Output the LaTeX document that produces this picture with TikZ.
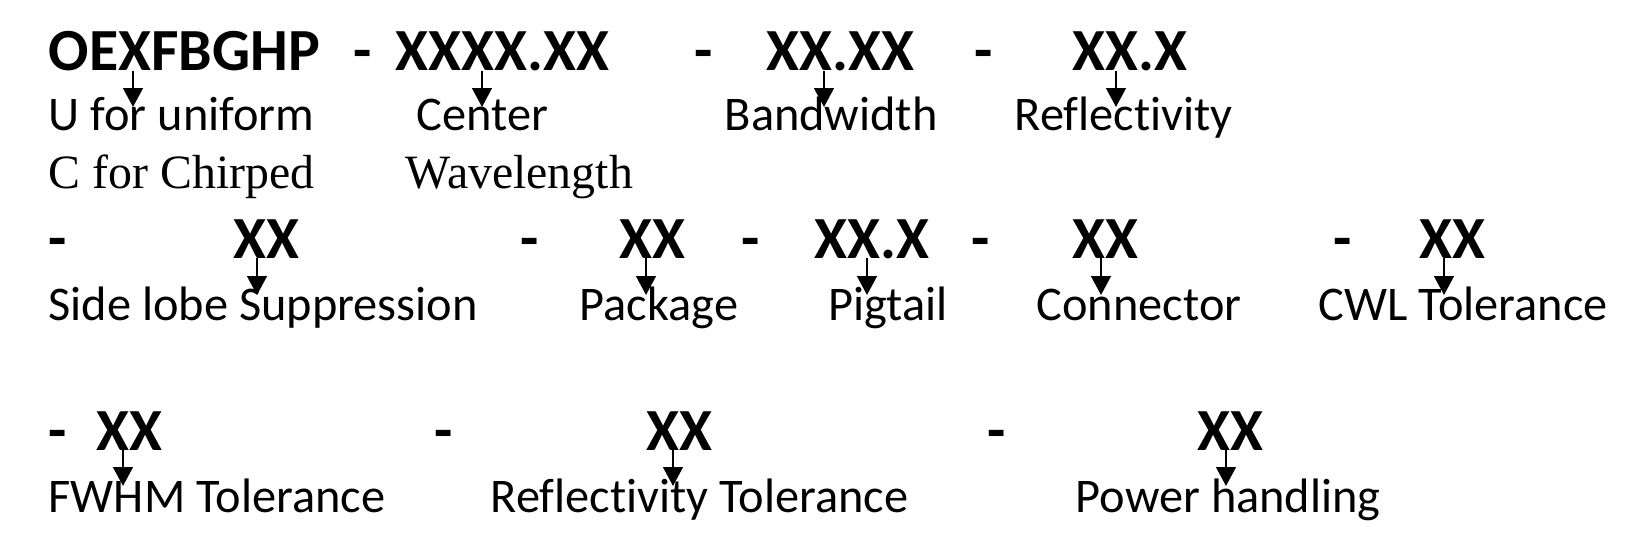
\documentclass[tikz,border=0pt]{standalone}
\usepackage{fontspec}
\setmainfont{Carlito}[Ligatures={NoCommon}]
\newfontfamily\tmsfont{Liberation Serif}
\usepackage{tikz}
\usetikzlibrary{
    arrows.meta,
    calc
}
\tikzset{
  code/.style  = {inner sep=0pt, anchor=base west,
                  font=\fontsize{17}{20}\selectfont\bfseries},
  lbl/.style   = {inner sep=0pt, anchor=base west,
                  font=\fontsize{13.75}{16}\selectfont},
  slbl/.style  = {inner sep=0pt, anchor=base west,
                  font=\fontsize{13.6}{16}\selectfont\tmsfont},
  arr/.style   = {-{Triangle[length=5.4pt,width=5.6pt]}, line width=0.7pt}
}

\begin{document}
\begin{tikzpicture}[x=0.01cm, y=-0.01cm]
  \useasboundingbox (0,0) rectangle (1629,551);
  % first line of the part number
  \node[code] (oe)   at (48,70)   {OEXFBGHP};
  \node[code] (dsh1) at (353,70)  {-};
  \node[code] (cwl)  at (395,70)  {XXXX.XX};
  \node[code] (dsh2) at (694,70)  {-};
  \node[code] (bw)   at (766,70)  {XX.XX};
  \node[code] (dsh3) at (974,70)  {-};
  \node[code] (rf)   at (1072,70) {XX.X};
  \node[lbl]  (luni)   at (48,130)   {U for uniform};
  \node[lbl]  (lcen)   at (416,130)  {Center};
  \node[lbl]  (lbw)    at (724,130)  {Bandwidth};
  \node[lbl]  (lrf)    at (1014,130) {Reflectivity};
  \node[slbl] (lchirp) at (48,188)   {C for Chirped};
  \node[slbl] (lwave)  at (405,188)  {Wavelength};
  \draw[arr] ($(oe.base west)+(85,1)$)  -- ++(0,36);
  \draw[arr] ($(cwl.base west)+(87,1)$) -- ++(0,36);
  \draw[arr] ($(bw.base west)+(58,1)$)  -- ++(0,36);
  \draw[arr] ($(rf.base west)+(44,1)$)  -- ++(0,36);
  % second line
  \node[code] (dsh4) at (48,258)   {-};
  \node[code] (sls)  at (233,258)  {XX};
  \node[code] (dsh5) at (520,258)  {-};
  \node[code] (pkg)  at (619,258)  {XX};
  \node[code] (dsh6) at (741,258)  {-};
  \node[code] (pig)  at (814,258)  {XX.X};
  \node[code] (dsh7) at (971,258)  {-};
  \node[code] (con)  at (1072,258) {XX};
  \node[code] (dsh8) at (1333,258) {-};
  \node[code] (cwt)  at (1419,258) {XX};
  \node[lbl] (lsls) at (48,320)   {Side lobe Suppression};
  \node[lbl] (lpkg) at (579,320)  {Package};
  \node[lbl] (lpig) at (828,320)  {Pigtail};
  \node[lbl] (lcon) at (1036,320) {Connector};
  \node[lbl] (lcwt) at (1318,320) {CWL Tolerance};
  \draw[arr] ($(sls.base west)+(24,0)$) -- ++(0,37);
  \draw[arr] ($(pkg.base west)+(27,0)$) -- ++(0,37);
  \draw[arr] ($(pig.base west)+(53,0)$) -- ++(0,37);
  \draw[arr] ($(con.base west)+(29,0)$) -- ++(0,37);
  \draw[arr] ($(cwt.base west)+(25,0)$) -- ++(0,37);
  % third line
  \node[code] (dsh9)  at (48,450)   {-};
  \node[code] (fwt)   at (96,450)   {XX};
  \node[code] (dsh10) at (434,450)  {-};
  \node[code] (rft)   at (646,450)  {XX};
  \node[code] (dsh11) at (987,450)  {-};
  \node[code] (pwr)   at (1197,450) {XX};
  \node[lbl] (lfwt) at (48,512)   {FWHM Tolerance};
  \node[lbl] (lrft) at (490,512)  {Reflectivity Tolerance};
  \node[lbl] (lpwr) at (1075,512) {Power handling};
  \draw[arr] ($(fwt.base west)+(27,0)$) -- ++(0,36);
  \draw[arr] ($(rft.base west)+(27,0)$) -- ++(0,36);
  \draw[arr] ($(pwr.base west)+(29,0)$) -- ++(0,36);
\end{tikzpicture}
\end{document}
